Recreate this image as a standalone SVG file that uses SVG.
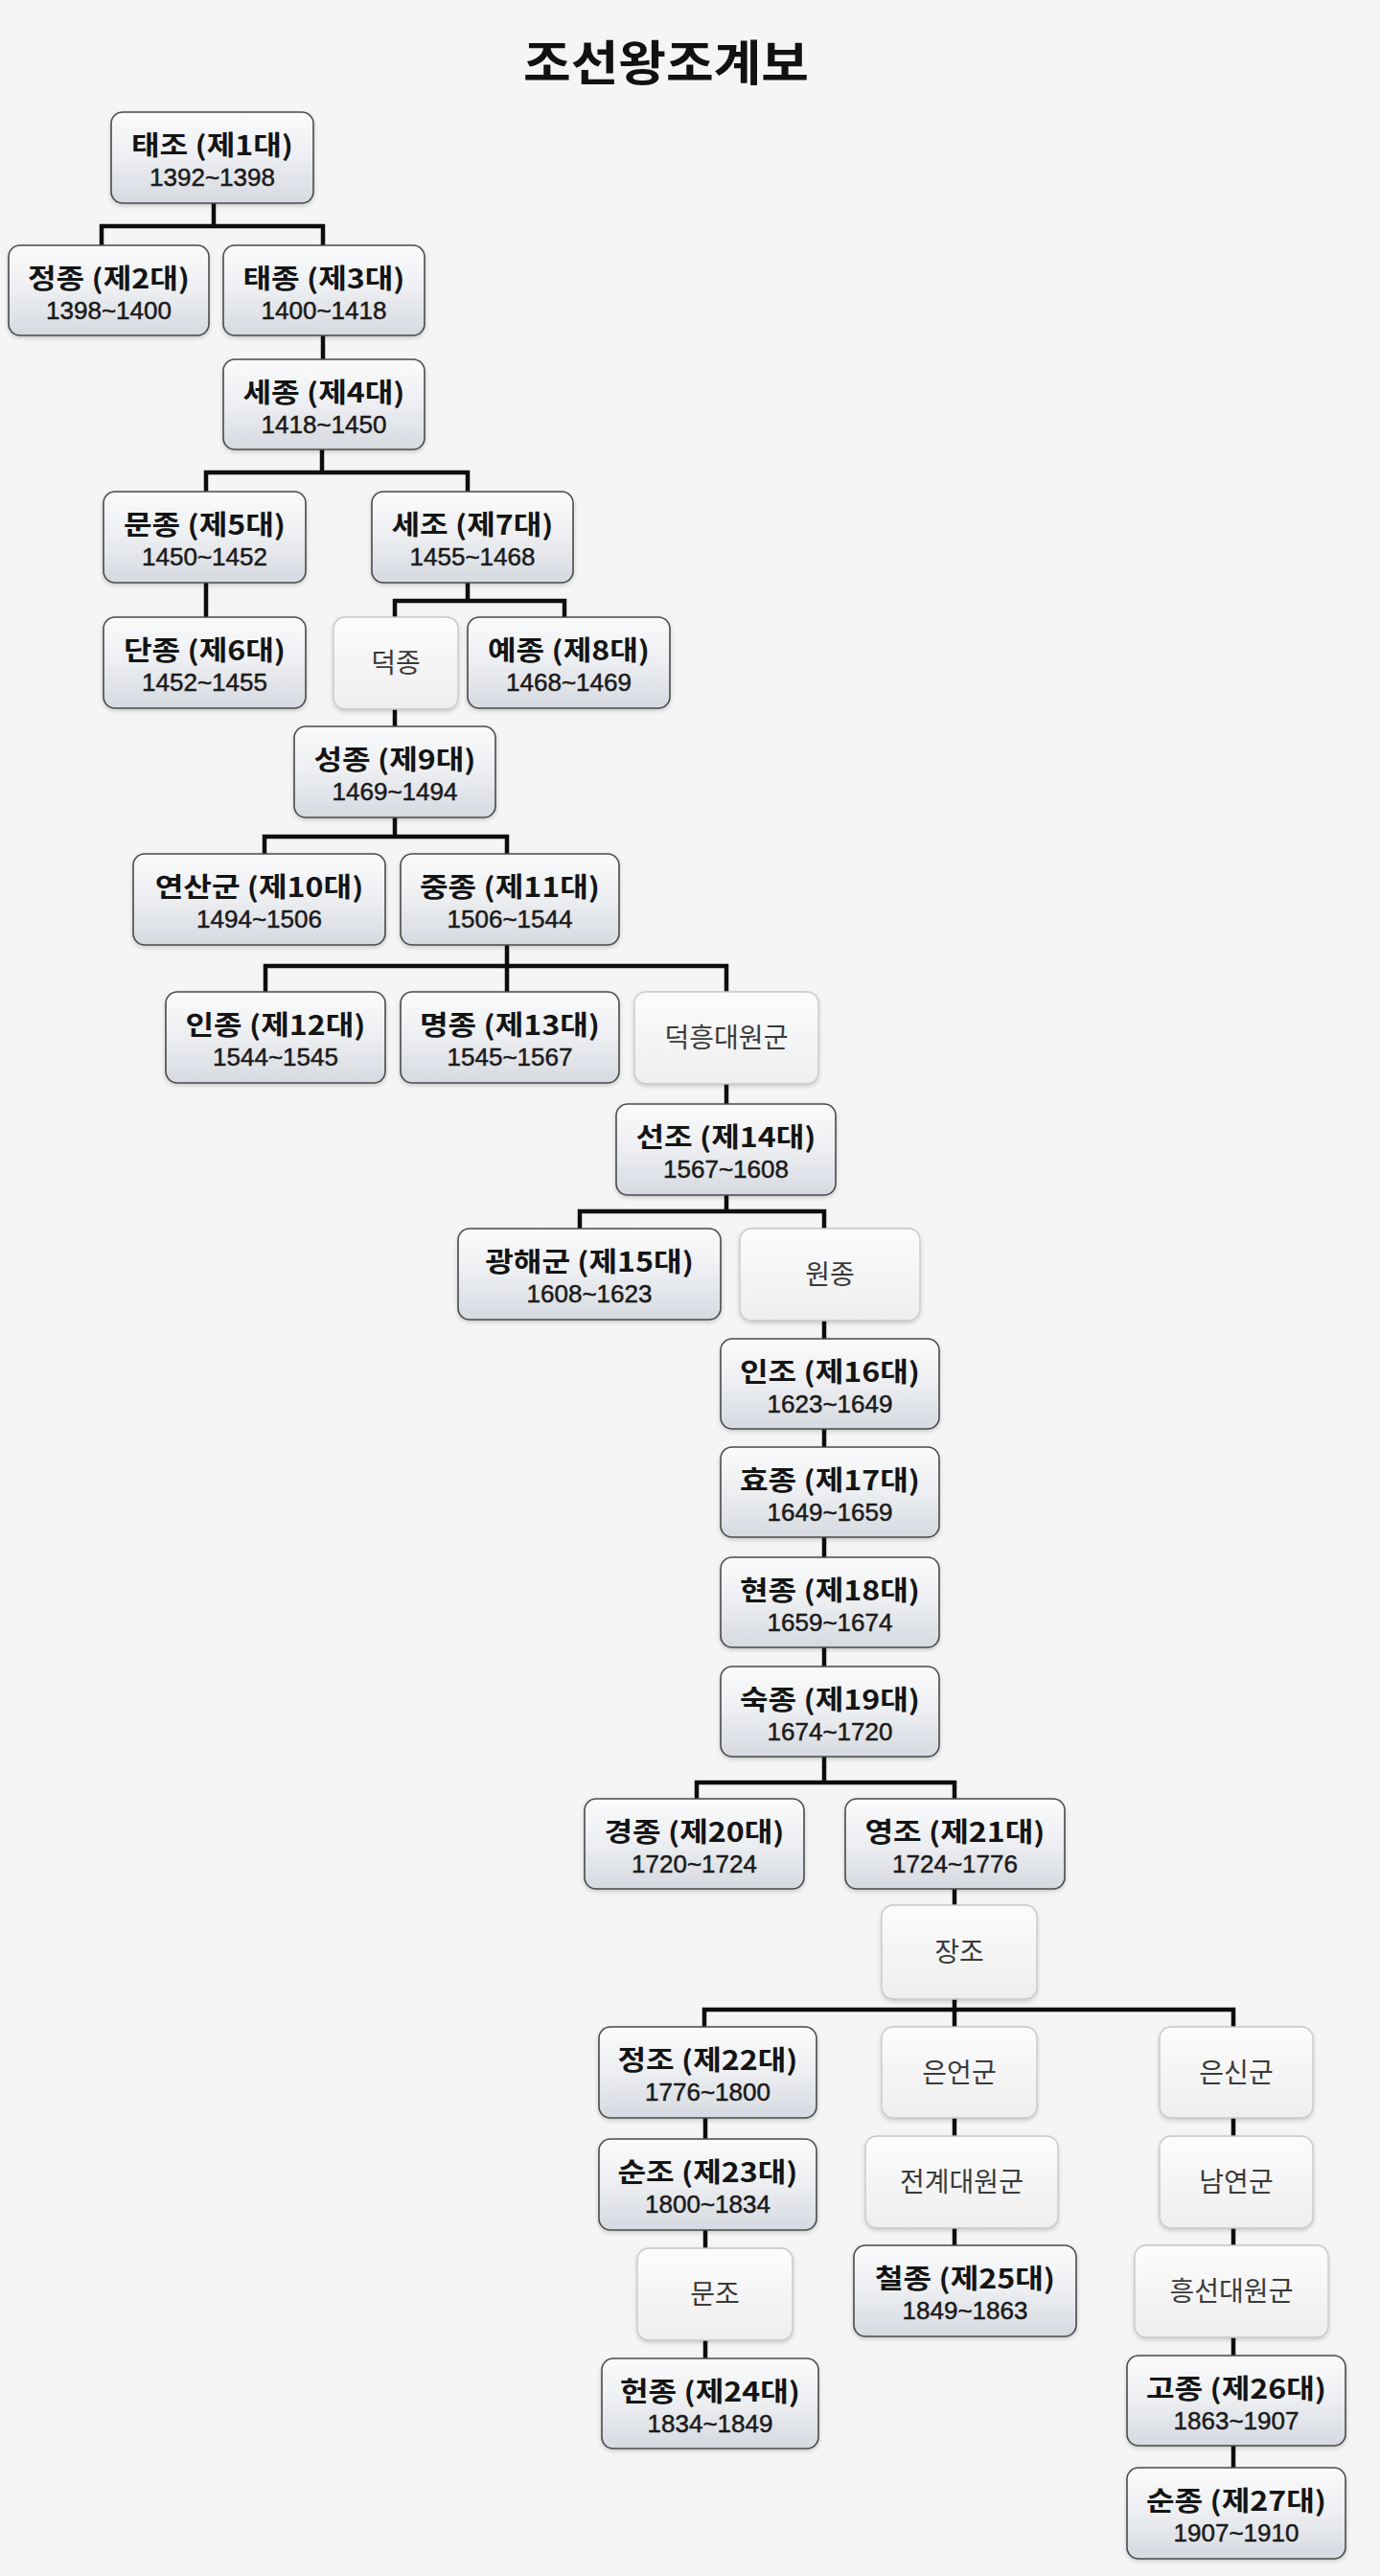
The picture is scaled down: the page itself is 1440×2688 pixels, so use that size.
<svg xmlns="http://www.w3.org/2000/svg" width="1440" height="2688" viewBox="0 0 1440 2688">
<defs>
<linearGradient id="gn" x1="0" y1="0" x2="0" y2="1">
<stop offset="0" stop-color="#fbfbfc"/>
<stop offset="0.5" stop-color="#eceef1"/>
<stop offset="1" stop-color="#d6d9e0"/>
</linearGradient>
<linearGradient id="gf" x1="0" y1="0" x2="0" y2="1">
<stop offset="0" stop-color="#fcfcfc"/>
<stop offset="1" stop-color="#eeeeee"/>
</linearGradient>
<filter id="sh" x="-10%" y="-10%" width="120%" height="130%">
<feDropShadow dx="0" dy="2" stdDeviation="2" flood-color="#000" flood-opacity="0.18"/>
</filter>
</defs>
<style>
text { text-anchor: middle; font-family: "Noto Sans CJK KR", "Noto Sans", sans-serif; }
.title { font-size: 50px; font-weight: 700; fill: #111; }
.b { fill: url(#gn); stroke: #4a4a4a; stroke-width: 1.6; filter: url(#sh); }
.f { fill: url(#gf); stroke: #c6c6c6; stroke-width: 1.3; filter: url(#sh); }
.nm { font-size: 28px; font-weight: 700; fill: #141414; }
.yr { font-family: "Liberation Sans", Arial, sans-serif; font-size: 26px; font-weight: 400; fill: #1a1a1a; stroke: #1a1a1a; stroke-width: 0.5; }
.ft { font-size: 28px; font-weight: 400; fill: #3a3a3a; }
.c { fill: none; stroke: #0d0d0d; stroke-width: 4.5; stroke-linejoin: miter; stroke-linecap: butt; }
</style>
<rect x="0" y="0" width="1440" height="2688" fill="#f5f5f5"/>
<text class="title" transform="translate(695 84) scale(1.08 1)">조선왕조계보</text>

<g id="connectors">
<path class="c" d="M223 212 V236 M106 256 V236 H337 V256"/>
<path class="c" d="M337 350 V375"/>
<path class="c" d="M336 469 V493 M215 513 V493 H488 V513"/>
<path class="c" d="M215 608 V644"/>
<path class="c" d="M488 608 V627 M412 644 V627 H589 V644"/>
<path class="c" d="M412 740 V758"/>
<path class="c" d="M412 853 V873 M276 891 V873 H529 V891"/>
<path class="c" d="M529 986 V1008 M277 1035 V1008 H758 V1035 M529 1008 V1035"/>
<path class="c" d="M758 1131 V1152"/>
<path class="c" d="M758 1247 V1264 M605 1282 V1264 H860 V1282"/>
<path class="c" d="M860 1378 V1397"/>
<path class="c" d="M860 1491 V1510"/>
<path class="c" d="M860 1604 V1625"/>
<path class="c" d="M860 1719 V1739"/>
<path class="c" d="M860 1833 V1860 M727 1877 V1860 H996 V1877"/>
<path class="c" d="M996 1971 V1988"/>
<path class="c" d="M996 2086 V2097 M735 2115 V2097 H1287 V2115 M996 2097 V2115"/>
<path class="c" d="M736 2210 V2232"/>
<path class="c" d="M996 2210 V2229"/>
<path class="c" d="M1287 2210 V2229"/>
<path class="c" d="M736 2327 V2346"/>
<path class="c" d="M996 2325 V2343"/>
<path class="c" d="M1287 2325 V2343"/>
<path class="c" d="M736 2442 V2461"/>
<path class="c" d="M1287 2439 V2458"/>
<path class="c" d="M1287 2552 V2575"/>
</g>

<g id="n1"><rect class="b" x="116" y="117" width="211" height="95" rx="12"/><text class="nm" transform="translate(221.5 162) scale(1.15 1)">태조 (제1대)</text><text class="yr" x="221.5" y="194">1392~1398</text></g>
<g id="n2"><rect class="b" x="9" y="256" width="209" height="94" rx="12"/><text class="nm" transform="translate(113.5 301) scale(1.15 1)">정종 (제2대)</text><text class="yr" x="113.5" y="333">1398~1400</text></g>
<g id="n3"><rect class="b" x="233" y="256" width="210" height="94" rx="12"/><text class="nm" transform="translate(338 301) scale(1.15 1)">태종 (제3대)</text><text class="yr" x="338" y="333">1400~1418</text></g>
<g id="n4"><rect class="b" x="233" y="375" width="210" height="94" rx="12"/><text class="nm" transform="translate(338 420) scale(1.15 1)">세종 (제4대)</text><text class="yr" x="338" y="452">1418~1450</text></g>
<g id="n5"><rect class="b" x="108" y="513" width="211" height="95" rx="12"/><text class="nm" transform="translate(213.5 558) scale(1.15 1)">문종 (제5대)</text><text class="yr" x="213.5" y="590">1450~1452</text></g>
<g id="n6"><rect class="b" x="388" y="513" width="210" height="95" rx="12"/><text class="nm" transform="translate(493 558) scale(1.15 1)">세조 (제7대)</text><text class="yr" x="493" y="590">1455~1468</text></g>
<g id="n7"><rect class="b" x="108" y="644" width="211" height="95" rx="12"/><text class="nm" transform="translate(213.5 689) scale(1.15 1)">단종 (제6대)</text><text class="yr" x="213.5" y="721">1452~1455</text></g>
<g id="n8"><rect class="f" x="348" y="644" width="130" height="96" rx="12"/><text class="ft" x="413" y="702">덕종</text></g>
<g id="n9"><rect class="b" x="488" y="644" width="211" height="95" rx="12"/><text class="nm" transform="translate(593.5 689) scale(1.15 1)">예종 (제8대)</text><text class="yr" x="593.5" y="721">1468~1469</text></g>
<g id="n10"><rect class="b" x="307" y="758" width="210" height="95" rx="12"/><text class="nm" transform="translate(412 803) scale(1.15 1)">성종 (제9대)</text><text class="yr" x="412" y="835">1469~1494</text></g>
<g id="n11"><rect class="b" x="139" y="891" width="263" height="95" rx="12"/><text class="nm" transform="translate(270.5 936) scale(1.15 1)">연산군 (제10대)</text><text class="yr" x="270.5" y="968">1494~1506</text></g>
<g id="n12"><rect class="b" x="418" y="891" width="228" height="95" rx="12"/><text class="nm" transform="translate(532 936) scale(1.15 1)">중종 (제11대)</text><text class="yr" x="532" y="968">1506~1544</text></g>
<g id="n13"><rect class="b" x="173" y="1035" width="229" height="95" rx="12"/><text class="nm" transform="translate(287.5 1080) scale(1.15 1)">인종 (제12대)</text><text class="yr" x="287.5" y="1112">1544~1545</text></g>
<g id="n14"><rect class="b" x="418" y="1035" width="228" height="95" rx="12"/><text class="nm" transform="translate(532 1080) scale(1.15 1)">명종 (제13대)</text><text class="yr" x="532" y="1112">1545~1567</text></g>
<g id="n15"><rect class="f" x="662" y="1035" width="192" height="96" rx="12"/><text class="ft" x="758" y="1093">덕흥대원군</text></g>
<g id="n16"><rect class="b" x="643" y="1152" width="229" height="95" rx="12"/><text class="nm" transform="translate(757.5 1197) scale(1.15 1)">선조 (제14대)</text><text class="yr" x="757.5" y="1229">1567~1608</text></g>
<g id="n17"><rect class="b" x="478" y="1282" width="274" height="95" rx="12"/><text class="nm" transform="translate(615 1327) scale(1.15 1)">광해군 (제15대)</text><text class="yr" x="615" y="1359">1608~1623</text></g>
<g id="n18"><rect class="f" x="772" y="1282" width="188" height="96" rx="12"/><text class="ft" x="866" y="1340">원종</text></g>
<g id="n19"><rect class="b" x="752" y="1397" width="228" height="94" rx="12"/><text class="nm" transform="translate(866 1442) scale(1.15 1)">인조 (제16대)</text><text class="yr" x="866" y="1474">1623~1649</text></g>
<g id="n20"><rect class="b" x="752" y="1510" width="228" height="94" rx="12"/><text class="nm" transform="translate(866 1555) scale(1.15 1)">효종 (제17대)</text><text class="yr" x="866" y="1587">1649~1659</text></g>
<g id="n21"><rect class="b" x="752" y="1625" width="228" height="94" rx="12"/><text class="nm" transform="translate(866 1670) scale(1.15 1)">현종 (제18대)</text><text class="yr" x="866" y="1702">1659~1674</text></g>
<g id="n22"><rect class="b" x="752" y="1739" width="228" height="94" rx="12"/><text class="nm" transform="translate(866 1784) scale(1.15 1)">숙종 (제19대)</text><text class="yr" x="866" y="1816">1674~1720</text></g>
<g id="n23"><rect class="b" x="610" y="1877" width="229" height="94" rx="12"/><text class="nm" transform="translate(724.5 1922) scale(1.15 1)">경종 (제20대)</text><text class="yr" x="724.5" y="1954">1720~1724</text></g>
<g id="n24"><rect class="b" x="882" y="1877" width="229" height="94" rx="12"/><text class="nm" transform="translate(996.5 1922) scale(1.15 1)">영조 (제21대)</text><text class="yr" x="996.5" y="1954">1724~1776</text></g>
<g id="n25"><rect class="f" x="920" y="1988" width="162" height="98" rx="12"/><text class="ft" x="1001" y="2047">장조</text></g>
<g id="n26"><rect class="b" x="625" y="2115" width="227" height="95" rx="12"/><text class="nm" transform="translate(738.5 2160) scale(1.15 1)">정조 (제22대)</text><text class="yr" x="738.5" y="2192">1776~1800</text></g>
<g id="n27"><rect class="f" x="920" y="2115" width="162" height="95" rx="12"/><text class="ft" x="1001" y="2173">은언군</text></g>
<g id="n28"><rect class="f" x="1210" y="2115" width="160" height="95" rx="12"/><text class="ft" x="1290" y="2173">은신군</text></g>
<g id="n29"><rect class="b" x="625" y="2232" width="227" height="95" rx="12"/><text class="nm" transform="translate(738.5 2277) scale(1.15 1)">순조 (제23대)</text><text class="yr" x="738.5" y="2309">1800~1834</text></g>
<g id="n30"><rect class="f" x="903" y="2229" width="201" height="96" rx="12"/><text class="ft" x="1003.5" y="2287">전계대원군</text></g>
<g id="n31"><rect class="f" x="1210" y="2229" width="160" height="96" rx="12"/><text class="ft" x="1290" y="2287">남연군</text></g>
<g id="n32"><rect class="f" x="665" y="2346" width="162" height="96" rx="12"/><text class="ft" x="746" y="2404">문조</text></g>
<g id="n33"><rect class="b" x="891" y="2343" width="232" height="95" rx="12"/><text class="nm" transform="translate(1007 2388) scale(1.15 1)">철종 (제25대)</text><text class="yr" x="1007" y="2420">1849~1863</text></g>
<g id="n34"><rect class="f" x="1184" y="2343" width="202" height="96" rx="12"/><text class="ft" x="1285" y="2401">흥선대원군</text></g>
<g id="n35"><rect class="b" x="628" y="2461" width="226" height="94" rx="12"/><text class="nm" transform="translate(741 2506) scale(1.15 1)">헌종 (제24대)</text><text class="yr" x="741" y="2538">1834~1849</text></g>
<g id="n36"><rect class="b" x="1176" y="2458" width="228" height="94" rx="12"/><text class="nm" transform="translate(1290 2503) scale(1.15 1)">고종 (제26대)</text><text class="yr" x="1290" y="2535">1863~1907</text></g>
<g id="n37"><rect class="b" x="1176" y="2575" width="228" height="95" rx="12"/><text class="nm" transform="translate(1290 2620) scale(1.15 1)">순종 (제27대)</text><text class="yr" x="1290" y="2652">1907~1910</text></g>
</svg>
